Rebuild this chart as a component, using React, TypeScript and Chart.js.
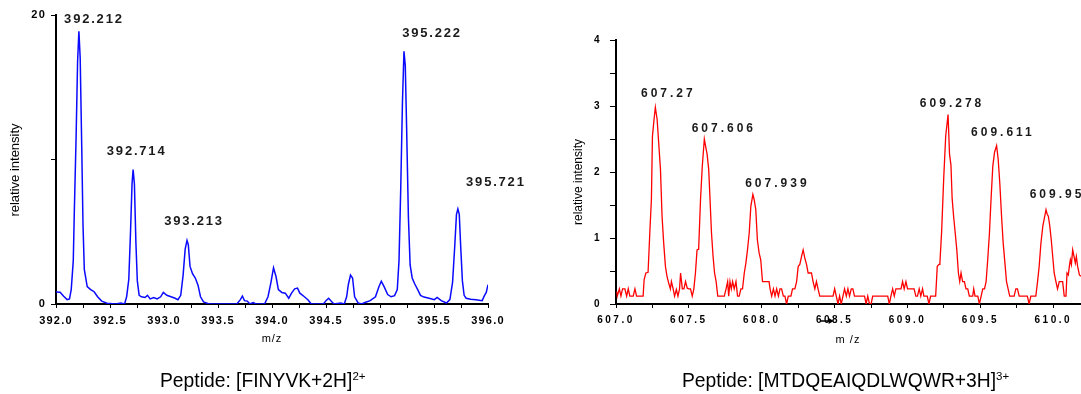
import React, { useEffect, useRef } from "react";
import { Chart, registerables } from "chart.js";

Chart.register(...registerables);

// ---- Spectrum A: [FINYVK+2H]2+ (m/z vs relative intensity) ----
const mzA = [
  392.0, 392.038, 392.071, 392.103, 392.125, 392.141, 392.16, 392.17, 392.186, 392.2, 392.212, 392.224,
  392.238, 392.25, 392.262, 392.289, 392.321, 392.353, 392.385, 392.423, 392.472, 392.552, 392.6, 392.635,
  392.654, 392.674, 392.69, 392.704, 392.714, 392.726, 392.74, 392.753, 392.77, 392.792, 392.824, 392.847,
  392.872, 392.905, 392.937, 392.969, 392.994, 393.026, 393.065, 393.103, 393.129, 393.155, 393.177, 393.196,
  393.213, 393.225, 393.241, 393.264, 393.29, 393.315, 393.338, 393.366, 393.418, 393.514, 393.674, 393.707,
  393.726, 393.745, 393.771, 393.796, 393.825, 393.851, 393.931, 393.963, 393.989, 394.014, 394.037, 394.059,
  394.091, 394.123, 394.155, 394.181, 394.21, 394.236, 394.258, 394.3, 394.332, 394.364, 394.476, 394.502,
  394.524, 394.547, 394.573, 394.637, 394.669, 394.691, 394.707, 394.727, 394.746, 394.765, 394.797, 394.829,
  394.861, 394.909, 394.958, 394.99, 395.012, 395.038, 395.071, 395.103, 395.135, 395.16, 395.176, 395.192,
  395.208, 395.222, 395.234, 395.247, 395.263, 395.279, 395.298, 395.321, 395.349, 395.375, 395.407, 395.455,
  395.503, 395.529, 395.567, 395.615, 395.647, 395.672, 395.692, 395.708, 395.721, 395.734, 395.747, 395.763,
  395.779, 395.798, 395.84, 395.888, 395.946, 395.968, 395.984, 396.0,
];
const intensityA = [
  0.83, 0.81, 0.53, 0.3, 0.35, 1.0, 3.0, 6.5, 11.5, 16.8, 18.87, 17.0,
  11.0, 5.5, 2.4, 1.2, 1.0, 0.85, 0.5, 0.2, 0.05, 0, 0.07, 0,
  0.5, 1.7, 5.0, 8.3, 9.31, 8.3, 4.2, 1.6, 0.6, 0.5, 0.45, 0.6,
  0.35, 0.45, 0.35, 0.5, 0.8, 0.6, 0.5, 0.4, 0.3, 0.6, 2.0, 3.8,
  4.4, 4.1, 2.6, 2.1, 1.8, 1.3, 0.5, 0.15, 0, 0, 0, 0.3,
  0.55, 0.23, 0.2, 0, 0.1, 0, 0, 0.5, 1.45, 2.5, 1.9, 1.0,
  0.8, 0.75, 0.4, 0.75, 1.05, 1.1, 0.75, 0.5, 0.3, 0, 0, 0.25,
  0.4, 0.2, 0, 0.07, 0, 0.5, 1.35, 2.0, 1.8, 0.5, 0.07, 0,
  0.1, 0.23, 0.5, 1.2, 1.57, 1.2, 0.65, 0.5, 0.58, 1.0, 3.0, 8.0,
  14.0, 17.49, 16.5, 12.0, 6.0, 2.7, 1.8, 1.4, 1.0, 0.6, 0.48, 0.4,
  0.3, 0.45, 0.23, 0.07, 0.3, 1.5, 4.0, 6.2, 6.57, 6.2, 4.0, 1.6,
  0.6, 0.4, 0.33, 0.3, 0.23, 0.6, 0.8, 1.34,
];
const peakLabelsA = ["392.212", "392.714", "393.213", "395.222", "395.721"];
const peakMzA = [392.212, 392.714, 393.213, 395.222, 395.721];
const peakIntA = [18.87, 9.31, 4.4, 17.49, 6.57];

// ---- Spectrum B: [MTDQEAIQDLWQWR+3H]3+ ----
const mzB = [
  607.005, 607.009, 607.023, 607.034, 607.045, 607.061, 607.073, 607.084, 607.095, 607.118, 607.13, 607.141,
  607.186, 607.193, 607.205, 607.22, 607.232, 607.243, 607.25, 607.261, 607.27, 607.282, 607.293, 607.305,
  607.316, 607.327, 607.339, 607.35, 607.361, 607.373, 607.38, 607.391, 607.402, 607.414, 607.425, 607.436,
  607.443, 607.455, 607.466, 607.477, 607.489, 607.5, 607.511, 607.523, 607.534, 607.545, 607.556, 607.567,
  607.58, 607.592, 607.606, 607.615, 607.625, 607.636, 607.645, 607.655, 607.666, 607.676, 607.687, 607.698,
  607.743, 607.755, 607.766, 607.773, 607.782, 607.791, 607.8, 607.811, 607.823, 607.834, 607.845, 607.857,
  607.868, 607.88, 607.891, 607.902, 607.914, 607.925, 607.939, 607.948, 607.959, 607.97, 607.982, 607.993,
  608.005, 608.027, 608.05, 608.057, 608.068, 608.08, 608.091, 608.102, 608.114, 608.125, 608.136, 608.148,
  608.159, 608.17, 608.182, 608.2, 608.211, 608.227, 608.239, 608.25, 608.261, 608.273, 608.284, 608.295,
  608.307, 608.318, 608.33, 608.341, 608.352, 608.364, 608.375, 608.386, 608.398, 608.489, 608.5, 608.511,
  608.523, 608.534, 608.545, 608.557, 608.568, 608.58, 608.591, 608.602, 608.614, 608.625, 608.636, 608.705,
  608.716, 608.727, 608.739, 608.75, 608.761, 608.864, 608.875, 608.886, 608.898, 608.909, 608.92, 608.932,
  608.955, 608.966, 608.977, 608.989, 609.0, 609.023, 609.045, 609.057, 609.068, 609.08, 609.091, 609.103,
  609.112, 609.124, 609.135, 609.147, 609.158, 609.193, 609.204, 609.216, 609.222, 609.234, 609.248, 609.262,
  609.278, 609.288, 609.298, 609.306, 609.316, 609.327, 609.338, 609.349, 609.358, 609.367, 609.378, 609.39,
  609.401, 609.413, 609.424, 609.436, 609.447, 609.454, 609.463, 609.482, 609.493, 609.505, 609.516, 609.528,
  609.539, 609.55, 609.562, 609.573, 609.585, 609.597, 609.611, 609.622, 609.633, 609.645, 609.656, 609.67,
  609.679, 609.69, 609.701, 609.731, 609.743, 609.754, 609.766, 609.811, 609.822, 609.834, 609.846, 609.88,
  609.892, 609.903, 609.915, 609.928, 609.95, 609.958, 609.966, 609.976, 609.986, 609.996, 610.006, 610.018,
  610.029, 610.041, 610.052, 610.064, 610.075, 610.087, 610.094, 610.103, 610.11, 610.117, 610.124, 610.133,
  610.142, 610.151, 610.158, 610.167, 610.179, 610.19,
];
const intensityB = [
  0.19, 0.12, 0.23, 0.12, 0.23, 0.23, 0.12, 0.23, 0.12, 0.12, 0.23, 0.12,
  0.12, 0.37, 0.47, 0.48, 1.08, 1.59, 2.54, 2.8, 2.98, 2.8, 2.44, 2.04,
  1.33, 0.93, 0.57, 0.42, 0.32, 0.23, 0.34, 0.24, 0.12, 0.22, 0.12, 0.23,
  0.47, 0.23, 0.23, 0.34, 0.24, 0.23, 0.23, 0.12, 0.23, 0.47, 0.82, 0.83,
  1.59, 2.09, 2.5, 2.39, 2.27, 2.04, 1.59, 1.08, 0.72, 0.47, 0.34, 0.12,
  0.12, 0.23, 0.34, 0.12, 0.34, 0.23, 0.34, 0.23, 0.34, 0.12, 0.12, 0.23,
  0.23, 0.47, 0.62, 0.82, 1.08, 1.48, 1.66, 1.58, 1.43, 0.97, 0.77, 0.67,
  0.34, 0.34, 0.34, 0.23, 0.12, 0.23, 0.12, 0.23, 0.12, 0.23, 0.23, 0.12,
  0.12, 0.0, 0.12, 0.12, 0.23, 0.23, 0.34, 0.57, 0.6, 0.72, 0.82, 0.7,
  0.6, 0.47, 0.47, 0.47, 0.34, 0.23, 0.34, 0.23, 0.12, 0.12, 0.23, 0.12,
  0.0, 0.12, 0.0, 0.12, 0.23, 0.12, 0.23, 0.12, 0.23, 0.23, 0.12, 0.12,
  0.0, 0.12, 0.0, 0.0, 0.12, 0.12, 0.0, 0.12, 0.23, 0.12, 0.23, 0.23,
  0.23, 0.34, 0.23, 0.34, 0.23, 0.23, 0.23, 0.12, 0.12, 0.23, 0.12, 0.23,
  0.12, 0.12, 0.12, 0.0, 0.12, 0.12, 0.57, 0.6, 0.62, 1.1, 1.9, 2.55,
  2.87, 2.27, 2.1, 1.6, 1.33, 1.08, 0.82, 0.47, 0.34, 0.47, 0.34, 0.34,
  0.23, 0.23, 0.12, 0.12, 0.12, 0.23, 0.12, 0.12, 0.0, 0.12, 0.23, 0.23,
  0.34, 0.67, 1.08, 1.59, 2.09, 2.3, 2.4, 2.19, 1.83, 1.33, 0.93, 0.57,
  0.34, 0.23, 0.12, 0.12, 0.23, 0.23, 0.12, 0.12, 0.12, 0.0, 0.12, 0.12,
  0.34, 0.57, 0.92, 1.18, 1.43, 1.36, 1.33, 1.18, 0.97, 0.72, 0.47, 0.34,
  0.23, 0.34, 0.34, 0.34, 0.12, 0.12, 0.47, 0.44, 0.57, 0.67, 0.6, 0.82,
  0.72, 0.62, 0.72, 0.57, 0.44, 0.42,
];
const peakLabelsB = ["607.27", "607.606", "607.939", "609.278", "609.611", "609.95"];
const peakMzB = [607.27, 607.606, 607.939, 609.278, 609.611, 609.95];
const peakIntB = [2.98, 2.5, 1.66, 2.87, 2.4, 1.43];

// Label placement (pixel offset of each label centre from its peak tip)
const labelOffsetA: [number, number][] = [[15, -12], [3.5, -18.5], [7, -18.5], [28, -18], [38, -27]];
const labelOffsetB: [number, number][] = [[13, -14], [19.5, -10.3], [24.5, -11], [4, -11], [6.3, -13.3], [11, -14.5]];

const FONT = "'Liberation Sans', Arial, sans-serif";

type Spec = {
  xs: number[];
  ys: number[];
  color: string;
  lineWidth: number;
  xMin: number;
  xMax: number;
  yMax: number;
  yStep: number;
  yLabel: (v: number) => string;
  padding: { top: number; right: number };
  yAxisWidth: number;
  yTickLen: number;
  yTickPad: number;
  xTickPad: number;
  tickFontSize: number;
  tickSpacing: string;
  labels: string[];
  peakMz: number[];
  peakInt: number[];
  offsets: [number, number][];
  labelFont: string;
  labelSpacing: string;
  yTitle: { x: number; y: number; font: string };
  xTitle: { text: string; x: number; y: number; font: string; spacing: string };
  strayMark?: number;
};

function isHalfStep(v: number) {
  return Math.abs(v * 2 - Math.round(v * 2)) < 1e-6;
}

function makeConfig(s: Spec): any {
  const annotate = {
    id: "annotate",
    beforeDraw(chart: any) {
      chart.ctx.letterSpacing = s.tickSpacing;
    },
    afterDraw(chart: any) {
      const ctx = chart.ctx as CanvasRenderingContext2D;
      const xScale = chart.scales.x;
      const yScale = chart.scales.y;
      ctx.save();
      ctx.fillStyle = "#1a1a1a";
      ctx.font = s.labelFont;
      (ctx as any).letterSpacing = s.labelSpacing;
      ctx.textAlign = "center";
      ctx.textBaseline = "middle";
      s.labels.forEach((t, i) => {
        const px = xScale.getPixelForValue(s.peakMz[i]) + s.offsets[i][0];
        const py = yScale.getPixelForValue(s.peakInt[i]) + s.offsets[i][1];
        ctx.fillText(t, px, py);
      });
      ctx.fillStyle = "#000";
      (ctx as any).letterSpacing = s.xTitle.spacing;
      ctx.font = s.xTitle.font;
      ctx.fillText(s.xTitle.text, s.xTitle.x, s.xTitle.y);

      // small arrow marker lying across one tick label
      if (s.strayMark !== undefined) {
        const mx = xScale.getPixelForValue(s.strayMark);
        const my = chart.chartArea.bottom + 17;
        ctx.strokeStyle = "#000";
        ctx.lineWidth = 1.5;
        ctx.beginPath();
        ctx.moveTo(mx - 14, my);
        ctx.lineTo(mx - 5, my);
        ctx.stroke();
        ctx.beginPath();
        ctx.moveTo(mx - 6, my - 3);
        ctx.lineTo(mx - 1, my);
        ctx.lineTo(mx - 6, my + 3);
        ctx.closePath();
        ctx.fill();
      }

      (ctx as any).letterSpacing = "0px";
      ctx.font = s.yTitle.font;
      ctx.translate(s.yTitle.x, s.yTitle.y);
      ctx.rotate(-Math.PI / 2);
      ctx.fillText("relative intensity", 0, 0);
      ctx.restore();
      (ctx as any).letterSpacing = "0px";
    },
  };

  return {
    type: "line",
    data: {
      datasets: [
        {
          data: s.xs.map((x, i) => ({ x, y: s.ys[i] })),
          borderColor: s.color,
          borderWidth: s.lineWidth,
          pointRadius: 0,
          tension: 0,
          fill: false,
        },
      ],
    },
    options: {
      responsive: false,
      animation: false,
      parsing: false,
      layout: { padding: { left: 0, right: s.padding.right, top: s.padding.top, bottom: 0 } },
      plugins: { legend: { display: false }, tooltip: { enabled: false }, title: { display: false } },
      scales: {
        x: {
          type: "linear",
          min: s.xMin,
          max: s.xMax,
          afterFit: (scale: any) => {
            scale.height = 90;
          },
          border: { display: true, color: "#000", width: 2 },
          grid: { drawOnChartArea: false, drawTicks: true, tickLength: 4, color: "#000", lineWidth: 1 },
          ticks: {
            stepSize: 0.25,
            includeBounds: false,
            autoSkip: false,
            maxRotation: 0,
            minRotation: 0,
            padding: s.xTickPad,
            color: "#000",
            font: { family: FONT, size: s.tickFontSize, weight: "bold" },
            callback: (v: number) => (isHalfStep(v) ? v.toFixed(1) : ""),
          },
        },
        y: {
          type: "linear",
          min: 0,
          max: s.yMax,
          afterFit: (scale: any) => {
            scale.width = s.yAxisWidth;
          },
          border: { display: true, color: "#000", width: 2 },
          grid: { drawOnChartArea: false, drawTicks: true, tickLength: s.yTickLen, color: "#000", lineWidth: 1 },
          ticks: {
            stepSize: s.yStep,
            padding: s.yTickPad,
            color: "#000",
            font: { family: FONT, size: s.tickFontSize, weight: "bold" },
            callback: (v: number) => s.yLabel(v),
          },
        },
      },
    },
    plugins: [annotate],
  };
}

const specA: Spec = {
  xs: mzA,
  ys: intensityA,
  color: "#0a0aff",
  lineWidth: 1.5,
  xMin: 392,
  xMax: 396,
  yMax: 20,
  yStep: 10,
  yLabel: (v) => (v === 10 ? "" : String(v)),
  padding: { top: 15, right: 52 },
  yAxisWidth: 56,
  yTickLen: 5,
  yTickPad: 5,
  xTickPad: 6,
  tickFontSize: 11,
  tickSpacing: "1.2px",
  labels: peakLabelsA,
  peakMz: peakMzA,
  peakInt: peakIntA,
  offsets: labelOffsetA,
  labelFont: `bold 13px ${FONT}`,
  labelSpacing: "1.8px",
  yTitle: { x: 15, y: 170, font: `13px ${FONT}` },
  xTitle: { text: "m/z", x: 272, y: 339, font: `11px ${FONT}`, spacing: "1px" },
};

const specB: Spec = {
  xs: mzB,
  ys: intensityB,
  color: "#ff0000",
  lineWidth: 1.3,
  xMin: 607,
  xMax: 610.19,
  yMax: 4,
  yStep: 0.5,
  yLabel: (v) => (Number.isInteger(v) ? String(v) : ""),
  padding: { top: 40, right: 0 },
  yAxisWidth: 76,
  yTickLen: 6,
  yTickPad: 8,
  xTickPad: 6,
  tickFontSize: 10,
  tickSpacing: "2.5px",
  labels: peakLabelsB,
  peakMz: peakMzB,
  peakInt: peakIntB,
  offsets: labelOffsetB,
  labelFont: `bold 12px ${FONT}`,
  labelSpacing: "3px",
  yTitle: { x: 39, y: 182, font: `12px ${FONT}` },
  xTitle: { text: "m /z", x: 308, y: 340, font: `11px ${FONT}`, spacing: "1px" },
  strayMark: 608.5,
};

const captionStyle = (left: number): React.CSSProperties => ({
  position: "absolute",
  left,
  top: 370,
  fontFamily: FONT,
  fontSize: 19.3,
  lineHeight: "22px",
  color: "#000",
  whiteSpace: "nowrap",
});

const supStyle: React.CSSProperties = {
  fontSize: 11.5,
  verticalAlign: "baseline",
  position: "relative",
  top: -7,
};

export default function App() {
  const leftRef = useRef<HTMLCanvasElement>(null);
  const rightRef = useRef<HTMLCanvasElement>(null);

  useEffect(() => {
    const a = new Chart(leftRef.current as HTMLCanvasElement, makeConfig(specA));
    const b = new Chart(rightRef.current as HTMLCanvasElement, makeConfig(specB));
    return () => {
      a.destroy();
      b.destroy();
    };
  }, []);

  return (
    <div
      style={{
        position: "absolute",
        left: 0,
        top: 0,
        width: 1081,
        height: 394,
        background: "#fff",
        overflow: "hidden",
      }}
    >
      <canvas ref={leftRef} width={540} height={394} style={{ position: "absolute", left: 0, top: 0 }} />
      <canvas ref={rightRef} width={541} height={394} style={{ position: "absolute", left: 540, top: 0 }} />
      <div style={captionStyle(160)}>
        Peptide: [FINYVK+2H]<span style={supStyle}>2+</span>
      </div>
      <div style={captionStyle(682)}>
        Peptide: [MTDQEAIQDLWQWR+3H]<span style={supStyle}>3+</span>
      </div>
    </div>
  );
}
